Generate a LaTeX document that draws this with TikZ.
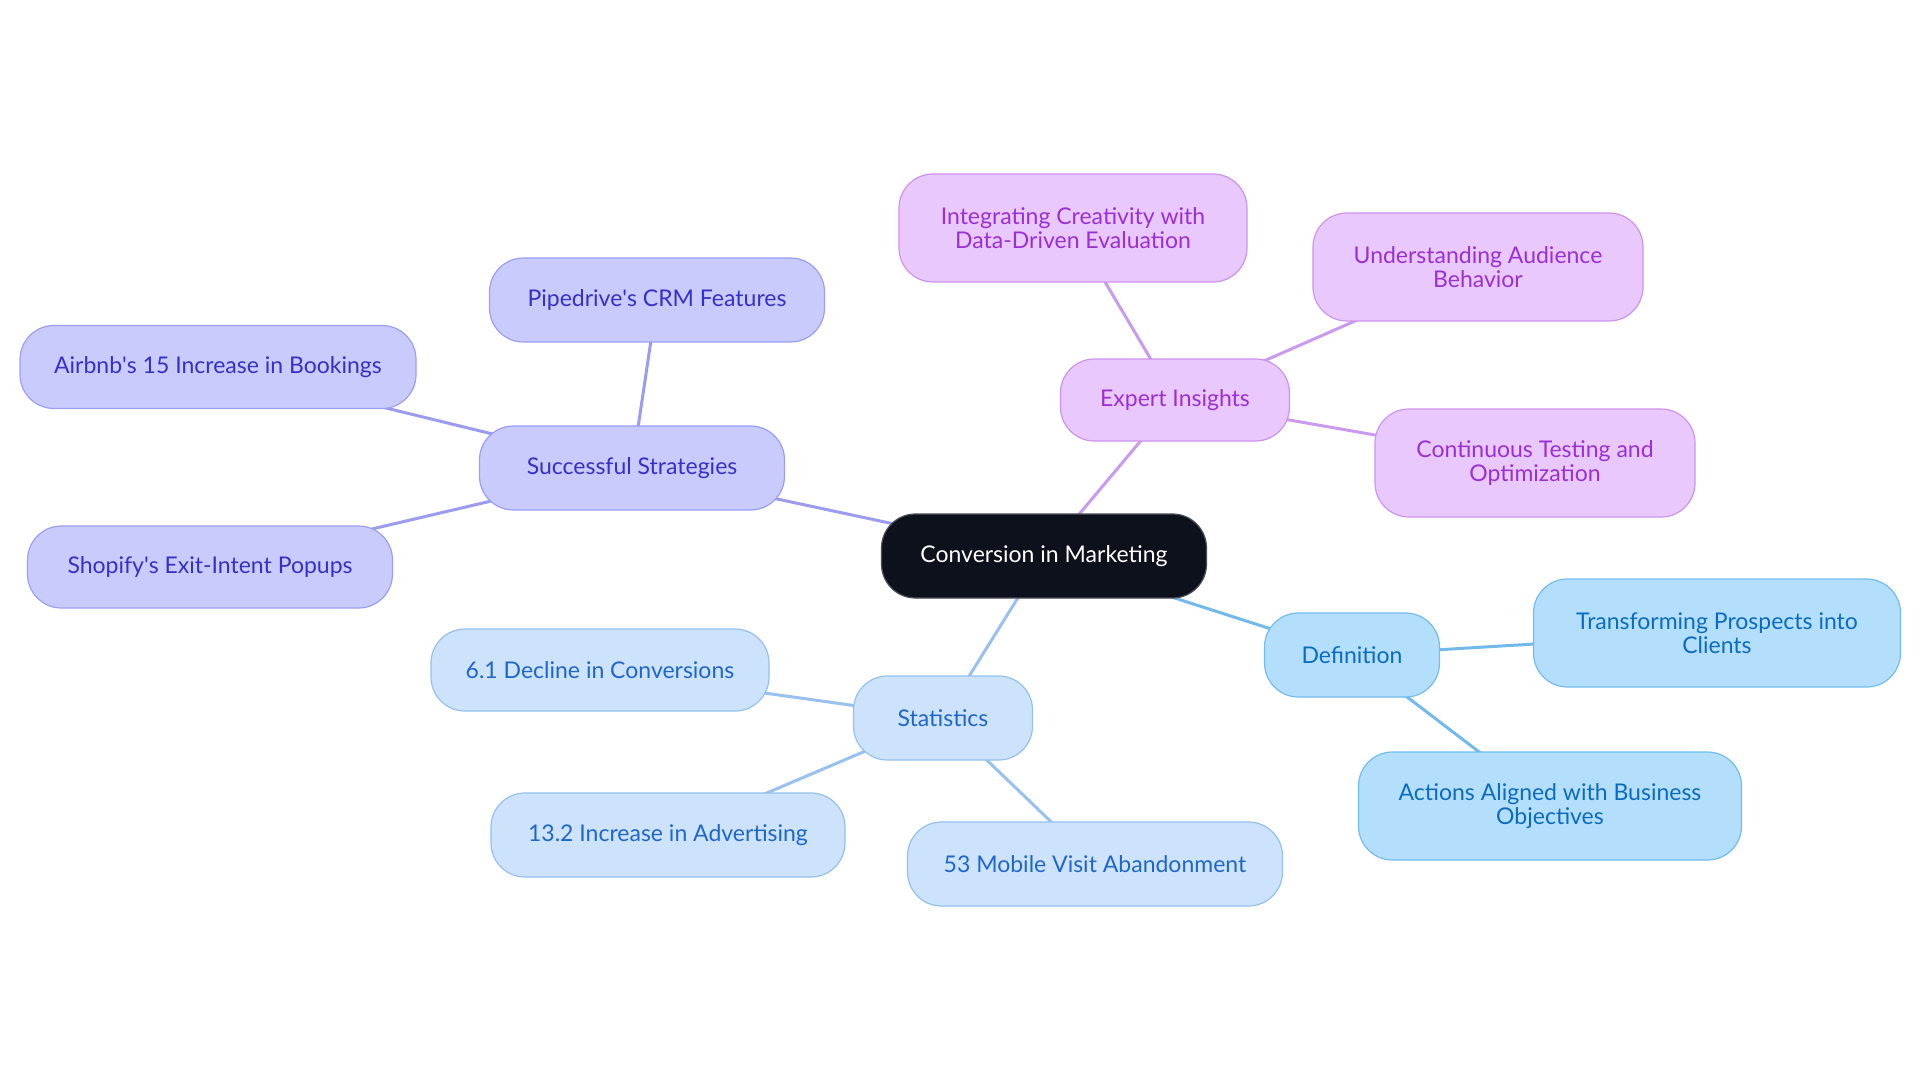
\documentclass[tikz,border=0pt]{standalone}
\usepackage{fontspec}
\setmainfont{Lato}
\usetikzlibrary{backgrounds}
\definecolor{cfill}{HTML}{0C111B}
\definecolor{cdraw}{HTML}{4A4F58}
\definecolor{sfill}{HTML}{C9CBFD}
\definecolor{sdraw}{HTML}{9B9EF2}
\definecolor{stext}{HTML}{3730C8}
\definecolor{sline}{HTML}{9B9BEF}
\definecolor{efill}{HTML}{E8C8FD}
\definecolor{edraw}{HTML}{CE93EE}
\definecolor{etext}{HTML}{9A2FD6}
\definecolor{eline}{HTML}{C99AEE}
\definecolor{tfill}{HTML}{CDE3FB}
\definecolor{tdraw}{HTML}{94C0F0}
\definecolor{ttext}{HTML}{1F66CC}
\definecolor{tline}{HTML}{98C1EF}
\definecolor{dfill}{HTML}{B3DFFD}
\definecolor{ddraw}{HTML}{73BCEF}
\definecolor{dtext}{HTML}{0B6BC1}
\definecolor{dline}{HTML}{72BAEC}
\tikzset{
  box/.style={rounded corners=34pt, align=center, inner sep=0pt, line width=1.2pt,
    font=\fontsize{23}{24}\selectfont},
  central/.style={box, fill=cfill, draw=cdraw, text=white},
  strat/.style={box, fill=sfill, draw=sdraw, text=stext},
  expert/.style={box, fill=efill, draw=edraw, text=etext},
  stat/.style={box, fill=tfill, draw=tdraw, text=ttext},
  defn/.style={box, fill=dfill, draw=ddraw, text=dtext},
  edge/.style={line width=3pt},
}
\begin{document}
\begin{tikzpicture}[x=1pt,y=-1pt]
\useasboundingbox (0,0) rectangle (1920,1083);
\node[central, minimum width=325pt, minimum height=84pt] (c) at (1044,556) {Conversion in Marketing};
\node[strat, minimum width=305pt, minimum height=84pt] (s) at (632,468) {Successful Strategies};
\node[strat, minimum width=335pt, minimum height=84pt] (s1) at (657,300) {Pipedrive\textquotesingle s CRM Features};
\node[strat, minimum width=396pt, minimum height=83pt] (s2) at (218,367) {Airbnb\textquotesingle s 15 Increase in Bookings};
\node[strat, minimum width=365pt, minimum height=82pt] (s3) at (210,567) {Shopify\textquotesingle s Exit-Intent Popups};
\node[expert, minimum width=229pt, minimum height=82pt] (e) at (1175,400) {Expert Insights};
\node[expert, minimum width=348pt, minimum height=108pt] (e1) at (1073,228) {Integrating Creativity with\\Data-Driven Evaluation};
\node[expert, minimum width=330pt, minimum height=108pt] (e2) at (1478,267) {Understanding Audience\\Behavior};
\node[expert, minimum width=320pt, minimum height=108pt] (e3) at (1535,463) {Continuous Testing and\\Optimization};
\node[defn, minimum width=175pt, minimum height=84pt] (d) at (1352,655) {Definition};
\node[defn, minimum width=367pt, minimum height=108pt] (d1) at (1717,633) {Transforming Prospects into\\Clients};
\node[defn, minimum width=383pt, minimum height=108pt] (d2) at (1550,806) {Actions Aligned with Business\\Objectives};
\node[stat, minimum width=179pt, minimum height=84pt] (t) at (943,718) {Statistics};
\node[stat, minimum width=338pt, minimum height=82pt] (t1) at (600,670) {6.1 Decline in Conversions};
\node[stat, minimum width=354pt, minimum height=84pt] (t2) at (668,835) {13.2 Increase in Advertising};
\node[stat, minimum width=375pt, minimum height=84pt] (t3) at (1095,864) {53 Mobile Visit Abandonment};
\begin{scope}[on background layer]
\fill[white] (0,0) rectangle (1920,1083);
\draw[edge, sline] (c.center) -- (s.center);
\draw[edge, sline] (s.center) -- (s1.center);
\draw[edge, sline] (s.center) -- (s2.center);
\draw[edge, sline] (s.center) -- (s3.center);
\draw[edge, eline] (c.center) -- (e.center);
\draw[edge, eline] (e.center) -- (e1.center);
\draw[edge, eline] (e.center) -- (e2.center);
\draw[edge, eline] (e.center) -- (e3.center);
\draw[edge, dline] (c.center) -- (d.center);
\draw[edge, dline] (d.center) -- (d1.center);
\draw[edge, dline] (d.center) -- (d2.center);
\draw[edge, tline] (c.center) -- (t.center);
\draw[edge, tline] (t.center) -- (t1.center);
\draw[edge, tline] (t.center) -- (t2.center);
\draw[edge, tline] (t.center) -- (t3.center);
\end{scope}
\end{tikzpicture}
\end{document}
